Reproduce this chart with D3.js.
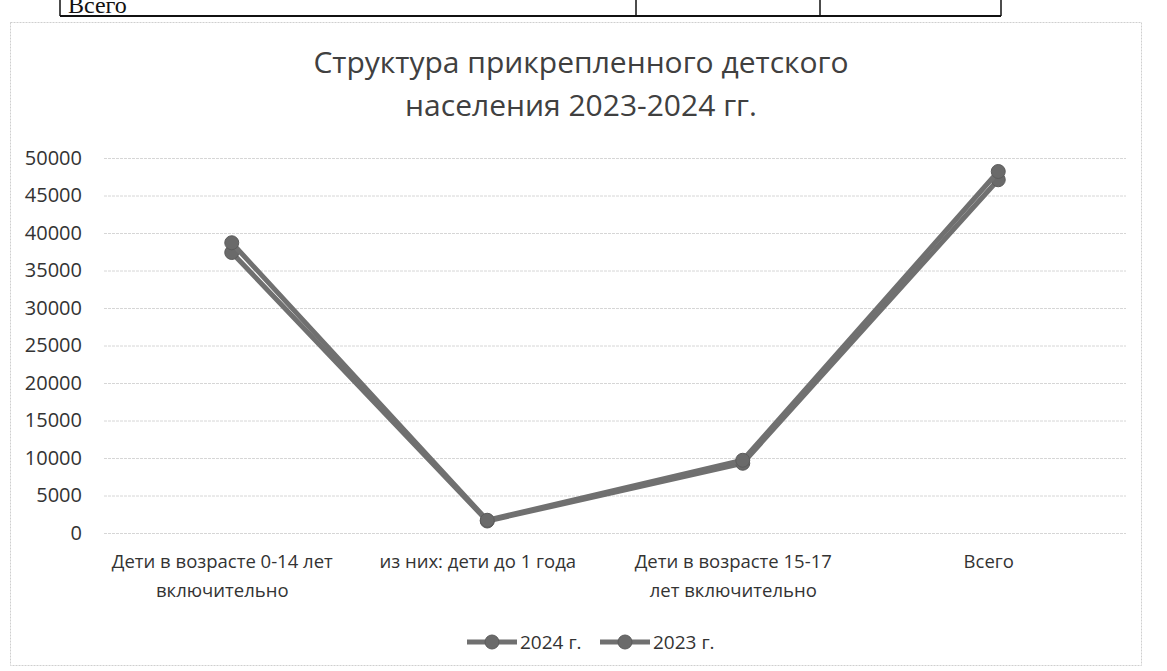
<!DOCTYPE html>
<html><head><meta charset="utf-8">
<script src="https://cdn.jsdelivr.net/npm/d3@7"></script>
<style>
html,body{margin:0;padding:0;background:#fff;}
svg{display:block;}
text{font-family:"Open Sans","Noto Sans",sans-serif;}
</style></head>
<body>
<svg id="chart" width="1167" height="671"></svg>
<script>
const categories = [
  ["Дети в возрасте 0-14 лет", "включительно"],
  ["из них: дети до 1 года"],
  ["Дети в возрасте 15-17", "лет включительно"],
  ["Всего"]
];
const seriesNames = ["2024 г.", "2023 г."];
const values2024 = [37400, 1600, 9300, 47100];
const values2023 = [38700, 1700, 9700, 48200];
const yTicks = [0, 5000, 10000, 15000, 20000, 25000, 30000, 35000, 40000, 45000, 50000];
const titleLines = ["Структура прикрепленного детского", "населения 2023-2024 гг."];
const tableText = "Всего";

const svg = d3.select("#chart");
const plot = {left: 104, right: 1126, top: 158, bottom: 533};

// table fragment at the top of the scanned page
const tbl = svg.append("g");
tbl.append("line").attr("x1", 60).attr("x2", 1001).attr("y1", 16).attr("y2", 16).attr("stroke", "#111").attr("stroke-width", 2);
[60, 636, 820, 1001].forEach(x => tbl.append("line").attr("x1", x).attr("x2", x).attr("y1", 0).attr("y2", 16).attr("stroke", "#111").attr("stroke-width", 1.5));
tbl.append("text").attr("x", 68).attr("y", 13).attr("font-size", 24).attr("fill", "#111")
  .style("font-family", "Liberation Serif, serif").text(tableText);

// chart border
svg.append("rect").attr("x", 10.5).attr("y", 22.5).attr("width", 1131).attr("height", 643)
  .attr("fill", "none").attr("stroke", "#cfcfcf").attr("stroke-width", 1).attr("stroke-dasharray", "2,1");

// title
const title = svg.append("text").attr("text-anchor", "middle").attr("font-size", 30).attr("fill", "#404040");
titleLines.forEach((t, i) => title.append("tspan").attr("x", 581).attr("y", 73 + i * 43).text(t));

const x = d3.scalePoint().domain(d3.range(categories.length)).range([plot.left, plot.right]).padding(0.5);
const y = d3.scaleLinear().domain([0, 50000]).range([plot.bottom, plot.top]);

// gridlines
svg.append("g").selectAll("line").data(yTicks).join("line")
  .attr("x1", plot.left).attr("x2", plot.right)
  .attr("y1", d => y(d) + 0.5).attr("y2", d => y(d) + 0.5)
  .attr("stroke", "#d6d6d6").attr("stroke-width", 1).attr("stroke-dasharray", "3,1");

// y axis
const yAxis = svg.append("g").attr("transform", `translate(${plot.left - 22},0)`)
  .call(d3.axisLeft(y).tickValues(yTicks).tickSize(0).tickPadding(0).tickFormat(d3.format("d")));
yAxis.select(".domain").remove();
yAxis.selectAll("text").attr("font-size", 20).attr("fill", "#333").style("font-family", "Open Sans, sans-serif");

// x axis labels
const xAxis = svg.append("g").attr("transform", `translate(0,${plot.bottom})`)
  .call(d3.axisBottom(x).tickSize(0).tickFormat(""));
xAxis.select(".domain").remove();
xAxis.selectAll(".tick").each(function(d) {
  const t = d3.select(this).append("text").attr("text-anchor", "middle").attr("font-size", 18.5).attr("fill", "#333")
    .style("font-family", "Open Sans, sans-serif");
  categories[d].forEach((line, i) => t.append("tspan").attr("x", -10).attr("y", 35 + i * 29).text(line));
});

// series
const series = [values2024, values2023];
const lineGen = d3.line().x((d, i) => x(i)).y(d => y(d));
series.forEach(vals => {
  const g = svg.append("g");
  g.append("path").datum(vals).attr("d", lineGen).attr("fill", "none")
    .attr("stroke", "#707070").attr("stroke-width", 5).attr("stroke-linejoin", "round");
  g.selectAll("circle").data(vals).join("circle")
    .attr("cx", (d, i) => x(i)).attr("cy", d => y(d)).attr("r", 7)
    .attr("fill", "#6a6a6a").attr("stroke", "#5c5c5c").attr("stroke-width", 1);
});

// legend
const legendY = 642;
const legendItems = [{name: seriesNames[0], x: 467}, {name: seriesNames[1], x: 600}];
legendItems.forEach(it => {
  const g = svg.append("g").attr("transform", `translate(${it.x},${legendY})`);
  g.append("line").attr("x1", 0).attr("x2", 50).attr("y1", 0).attr("y2", 0).attr("stroke", "#707070").attr("stroke-width", 5);
  g.append("circle").attr("cx", 25).attr("cy", 0).attr("r", 7).attr("fill", "#6a6a6a").attr("stroke", "#5c5c5c");
  g.append("text").attr("x", 53).attr("y", 7).attr("font-size", 19).attr("fill", "#333").text(it.name);
});
</script>
</body></html>
